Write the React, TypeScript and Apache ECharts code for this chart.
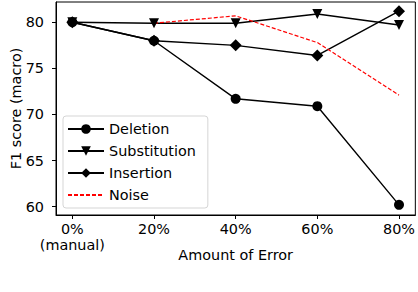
import React, { useEffect, useRef } from "react";
import * as echarts from "echarts";

const categories = ["0%\n(manual)", "20%", "40%", "60%", "80%"];
const deletion = [80.0, 78.0, 71.7, 70.9, 60.2];
const substitution = [80.0, 79.9, 79.9, 80.9, 79.7];
const insertion = [80.0, 78.0, 77.5, 76.4, 81.2];
const noise: (number | null)[] = [null, 79.9, 80.7, 77.8, 72.1];
const yTicks = [60, 65, 70, 75, 80];

const FONT = "DejaVu Sans";
const FS = 14.4;

const toXY = (arr: (number | null)[]) =>
  arr.map((v, i) => (v === null ? [i, null] : [i, v]));

export default function App() {
  const ref = useRef<HTMLDivElement>(null);
  useEffect(() => {
    document.body.style.margin = "0";
    const chart = echarts.init(ref.current!, null, { renderer: "svg" });
    const idx = categories.map((_, i) => i);
    chart.setOption({
      animation: false,
      textStyle: { fontFamily: FONT },
      grid: {
        left: 56,
        right: 2,
        top: 2,
        bottom: 77,
        show: true,
        borderColor: "#000",
        borderWidth: 1,
        backgroundColor: "transparent",
      },
      legend: {
        orient: "vertical",
        left: 63,
        top: 116,
        itemGap: 8,
        itemWidth: 36,
        itemHeight: 12,
        padding: [6, 12, 6, 4],
        borderColor: "#d5d5d5",
        borderWidth: 1,
        borderRadius: 3,
        backgroundColor: "rgba(255,255,255,0.85)",
        textStyle: { fontFamily: FONT, fontSize: FS, color: "#000" },
        data: [
          "Deletion",
          "Substitution",
          "Insertion",
          { name: "Noise", itemStyle: { opacity: 0 } },
        ],
      },
      xAxis: {
        type: "value",
        min: -0.2,
        max: 4.2,
        name: "Amount of Error",
        nameLocation: "middle",
        nameGap: 33,
        nameMoveOverlap: false,
        nameTextStyle: { fontFamily: FONT, fontSize: FS, color: "#000" },
        splitLine: { show: false },
        axisLine: { show: true, onZero: false, lineStyle: { color: "#000" } },
        axisTick: {
          show: true,
          length: 4,
          customValues: idx,
          lineStyle: { color: "#000" },
        },
        axisLabel: {
          customValues: idx,
          formatter: (v: number) => categories[Math.round(v)] ?? "",
          fontFamily: FONT,
          fontSize: FS,
          color: "#000",
          margin: 6,
          lineHeight: 16,
        },
      },
      yAxis: {
        type: "value",
        min: 59.1,
        max: 82.2,
        name: "F1 score (macro)",
        nameLocation: "middle",
        nameGap: 33,
        nameMoveOverlap: false,
        nameTextStyle: { fontFamily: FONT, fontSize: FS, color: "#000" },
        splitLine: { show: false },
        axisLine: { show: true, onZero: false, lineStyle: { color: "#000" } },
        axisTick: {
          show: true,
          length: 4,
          customValues: yTicks,
          lineStyle: { color: "#000" },
        },
        axisLabel: {
          customValues: yTicks,
          fontFamily: FONT,
          fontSize: FS,
          color: "#000",
          margin: 12,
        },
      },
      series: [
        {
          name: "Deletion",
          type: "line",
          data: toXY(deletion),
          symbol: "circle",
          symbolSize: 10,
          lineStyle: { color: "#000", width: 1.4 },
          itemStyle: { color: "#000" },
        },
        {
          name: "Substitution",
          type: "line",
          data: toXY(substitution),
          symbol: "triangle",
          symbolRotate: 180,
          symbolSize: 10,
          lineStyle: { color: "#000", width: 1.4 },
          itemStyle: { color: "#000" },
        },
        {
          name: "Insertion",
          type: "line",
          data: toXY(insertion),
          symbol: "diamond",
          symbolSize: 12,
          lineStyle: { color: "#000", width: 1.4 },
          itemStyle: { color: "#000" },
        },
        {
          name: "Noise",
          type: "line",
          data: toXY(noise),
          symbol: "none",
          lineStyle: { color: "#ff0000", width: 1.2, type: [4, 2] },
          itemStyle: { color: "#ff0000" },
        },
      ],
    });
    return () => chart.dispose();
  }, []);
  return <div ref={ref} style={{ width: 418, height: 292 }} />;
}
